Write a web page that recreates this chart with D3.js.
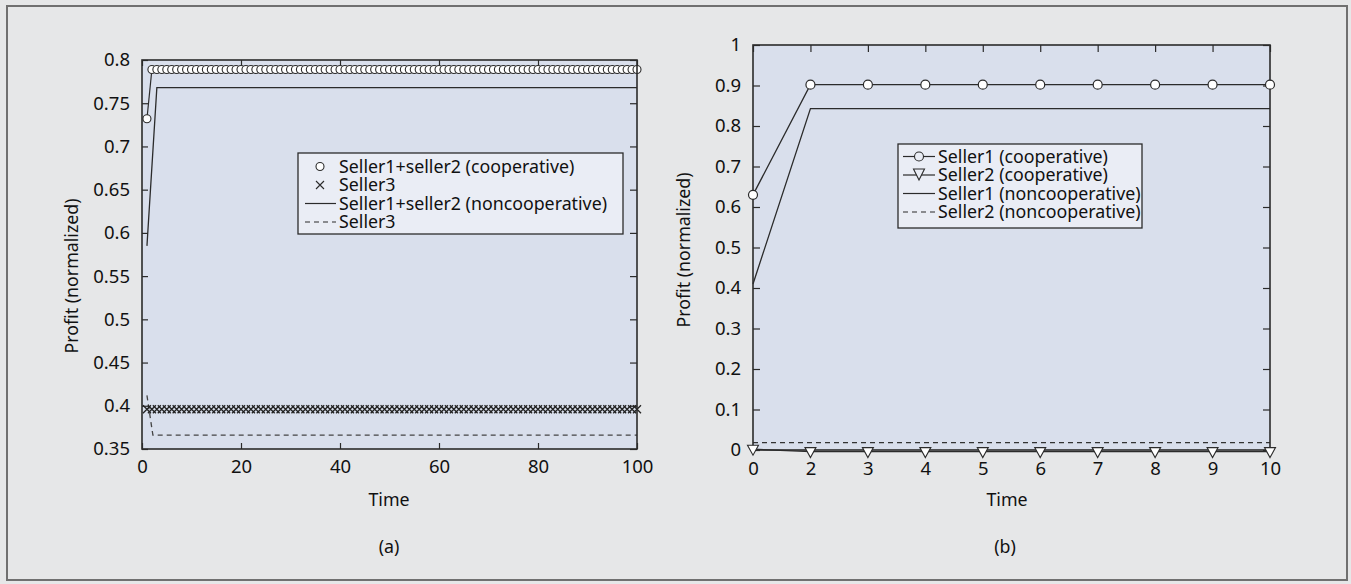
<!DOCTYPE html>
<html>
<head>
<meta charset="utf-8">
<script src="https://cdn.jsdelivr.net/npm/d3@7"></script>
<style>
  body { margin: 0; background: #e6e7e8; }
  svg { display: block; font-family: "Noto Sans", "DejaVu Sans", sans-serif; }
</style>
</head>
<body>
<svg id="chart" width="1351" height="584"></svg>
<script>

// ---- panel (a) data ----
const timeA = d3.range(1, 101);
const coopA = [
  0.732, 0.789, 0.789, 0.789, 0.789, 0.789, 0.789, 0.789, 0.789, 0.789,
  0.789, 0.789, 0.789, 0.789, 0.789, 0.789, 0.789, 0.789, 0.789, 0.789,
  0.789, 0.789, 0.789, 0.789, 0.789, 0.789, 0.789, 0.789, 0.789, 0.789,
  0.789, 0.789, 0.789, 0.789, 0.789, 0.789, 0.789, 0.789, 0.789, 0.789,
  0.789, 0.789, 0.789, 0.789, 0.789, 0.789, 0.789, 0.789, 0.789, 0.789,
  0.789, 0.789, 0.789, 0.789, 0.789, 0.789, 0.789, 0.789, 0.789, 0.789,
  0.789, 0.789, 0.789, 0.789, 0.789, 0.789, 0.789, 0.789, 0.789, 0.789,
  0.789, 0.789, 0.789, 0.789, 0.789, 0.789, 0.789, 0.789, 0.789, 0.789,
  0.789, 0.789, 0.789, 0.789, 0.789, 0.789, 0.789, 0.789, 0.789, 0.789,
  0.789, 0.789, 0.789, 0.789, 0.789, 0.789, 0.789, 0.789, 0.789, 0.789
];
const seller3CoopA = [
  0.396, 0.396, 0.396, 0.396, 0.396, 0.396, 0.396, 0.396, 0.396, 0.396,
  0.396, 0.396, 0.396, 0.396, 0.396, 0.396, 0.396, 0.396, 0.396, 0.396,
  0.396, 0.396, 0.396, 0.396, 0.396, 0.396, 0.396, 0.396, 0.396, 0.396,
  0.396, 0.396, 0.396, 0.396, 0.396, 0.396, 0.396, 0.396, 0.396, 0.396,
  0.396, 0.396, 0.396, 0.396, 0.396, 0.396, 0.396, 0.396, 0.396, 0.396,
  0.396, 0.396, 0.396, 0.396, 0.396, 0.396, 0.396, 0.396, 0.396, 0.396,
  0.396, 0.396, 0.396, 0.396, 0.396, 0.396, 0.396, 0.396, 0.396, 0.396,
  0.396, 0.396, 0.396, 0.396, 0.396, 0.396, 0.396, 0.396, 0.396, 0.396,
  0.396, 0.396, 0.396, 0.396, 0.396, 0.396, 0.396, 0.396, 0.396, 0.396,
  0.396, 0.396, 0.396, 0.396, 0.396, 0.396, 0.396, 0.396, 0.396, 0.396
];
const nonCoopTimeA = [1, 3, 100];
const nonCoopA = [0.585, 0.768, 0.768];
const seller3NonTimeA = [1, 2.2, 100];
const seller3NonA = [0.412, 0.366, 0.366];
const xTicksA = [0, 20, 40, 60, 80, 100];
const yTicksA = [0.35, 0.4, 0.45, 0.5, 0.55, 0.6, 0.65, 0.7, 0.75, 0.8];
const legendA = ["Seller1+seller2 (cooperative)", "Seller3", "Seller1+seller2 (noncooperative)", "Seller3"];

// ---- panel (b) data ----
const xCatsB = ["0", "2", "3", "4", "5", "6", "7", "8", "9", "10"];
const seller1CoopB = [0.63, 0.902, 0.902, 0.902, 0.902, 0.902, 0.902, 0.902, 0.902, 0.902];
const seller2CoopB = [0.002, -0.004, -0.004, -0.004, -0.004, -0.004, -0.004, -0.004, -0.004, -0.004];
const seller1NonB = [0.41, 0.843, 0.843, 0.843, 0.843, 0.843, 0.843, 0.843, 0.843, 0.843];
const seller2NonB = [0.018, 0.018, 0.018, 0.018, 0.018, 0.018, 0.018, 0.018, 0.018, 0.018];
const yTicksB = [0, 0.1, 0.2, 0.3, 0.4, 0.5, 0.6, 0.7, 0.8, 0.9, 1];
const legendB = ["Seller1 (cooperative)", "Seller2 (cooperative)", "Seller1 (noncooperative)", "Seller2 (noncooperative)"];

const ink = "#2b2b2b";
const plotBg = "#d9dfec";
const legendBg = "#eaedf5";
const fontSize = 17.8;
const tickFont = 18.5;

const svg = d3.select("#chart");

// outer frame
svg.append("rect")
  .attr("x", 7).attr("y", 6).attr("width", 1340).attr("height", 574)
  .attr("fill", "#e6e7e8").attr("stroke", "#707070").attr("stroke-width", 2);

function styleAxis(sel) {
  sel.select(".domain").remove();
  sel.selectAll("line").attr("stroke", ink).attr("stroke-width", 1.2);
  sel.selectAll("text").attr("fill", "#111").style("font-size", tickFont + "px")
    .style("font-family", "'Noto Sans', sans-serif");
}

function addText(x, y, t, rotate) {
  const el = svg.append("text").attr("text-anchor", "middle")
    .style("font-size", fontSize + "px").attr("fill", "#111").text(t);
  if (rotate) el.attr("transform", `translate(${x},${y}) rotate(-90)`);
  else el.attr("x", x).attr("y", y);
  return el;
}

// ================= panel (a) =================
{
  const L = 142, T = 60, W = 495, H = 389;
  const g = svg.append("g").attr("transform", `translate(${L},${T})`);
  const x = d3.scaleLinear().domain([0, 100]).range([0, W]);
  const y = d3.scaleLinear().domain([0.35, 0.8]).range([H, 0]);

  g.append("rect").attr("width", W).attr("height", H).attr("fill", plotBg);

  g.append("g").attr("transform", `translate(0,${H})`)
    .call(d3.axisBottom(x).tickValues(xTicksA).tickSize(-6).tickPadding(11))
    .call(styleAxis);
  g.append("g")
    .call(d3.axisLeft(y).tickValues(yTicksA).tickSize(-6).tickPadding(12).tickFormat(d => String(+d.toFixed(2))))
    .call(styleAxis);
  g.append("g").call(d3.axisTop(x).tickValues(xTicksA).tickSize(-6).tickFormat("")).call(styleAxis);
  g.append("g").attr("transform", `translate(${W},0)`)
    .call(d3.axisRight(y).tickValues(yTicksA).tickSize(-7).tickFormat("")).call(styleAxis);

  const line = d3.line().x(d => x(d[0])).y(d => y(d[1]));

  // noncooperative lines
  g.append("path").datum(d3.zip(nonCoopTimeA, nonCoopA)).attr("d", line)
    .attr("fill", "none").attr("stroke", ink).attr("stroke-width", 1.3);
  g.append("path").datum(d3.zip(seller3NonTimeA, seller3NonA)).attr("d", line)
    .attr("fill", "none").attr("stroke", "#444").attr("stroke-width", 1.3)
    .attr("stroke-dasharray", "5,4");

  // cooperative: circles
  const coopPts = d3.zip(timeA, coopA);
  g.append("path").datum(coopPts.slice(0, 2)).attr("d", line)
    .attr("fill", "none").attr("stroke", ink).attr("stroke-width", 1.2);
  g.selectAll(".circA").data(coopPts).join("circle")
    .attr("cx", d => x(d[0])).attr("cy", d => y(d[1])).attr("r", 4)
    .attr("fill", "#fff").attr("stroke", ink).attr("stroke-width", 1.1);

  // seller3 cooperative: crosses
  g.selectAll(".crossA").data(d3.zip(timeA, seller3CoopA)).join("path")
    .attr("d", d => { const cx = x(d[0]), cy = y(d[1]), s = 4;
      return `M${cx - s},${cy - s}L${cx + s},${cy + s}M${cx - s},${cy + s}L${cx + s},${cy - s}`; })
    .attr("stroke", "#222").attr("stroke-width", 1.3).attr("fill", "none");

  // plot border
  g.append("rect").attr("width", W).attr("height", H).attr("fill", "none")
    .attr("stroke", ink).attr("stroke-width", 1.6);

  // legend
  const lg = svg.append("g").attr("transform", "translate(298,153)");
  lg.append("rect").attr("width", 325).attr("height", 81)
    .attr("fill", legendBg).attr("stroke", ink).attr("stroke-width", 1.3);
  legendA.forEach((t, i) => {
    const cy = 13.5 + i * 18.5;
    lg.append("text").attr("x", 41).attr("y", cy).attr("dy", "0.35em")
      .style("font-size", fontSize + "px").attr("fill", "#111").text(t);
    if (i === 0) {
      lg.append("circle").attr("cx", 22).attr("cy", cy).attr("r", 4)
        .attr("fill", "#fff").attr("stroke", ink).attr("stroke-width", 1.1);
    } else if (i === 1) {
      lg.append("path").attr("d", `M18,${cy - 4}L26,${cy + 4}M18,${cy + 4}L26,${cy - 4}`)
        .attr("stroke", ink).attr("stroke-width", 1.1);
    } else {
      lg.append("line").attr("x1", 7).attr("x2", 38).attr("y1", cy).attr("y2", cy)
        .attr("stroke", ink).attr("stroke-width", 1.2)
        .attr("stroke-dasharray", i === 3 ? "5,4" : null);
    }
  });

  addText(78, 276, "Profit (normalized)", true);
  addText(389, 506, "Time");
  addText(389, 553, "(a)");
}

// ================= panel (b) =================
{
  const L = 753, T = 45, W = 517, H = 405;
  const g = svg.append("g").attr("transform", `translate(${L},${T})`);
  const x = d3.scalePoint().domain(xCatsB).range([0, W]);
  const y = d3.scaleLinear().domain([0, 1]).range([H, 0]);

  g.append("rect").attr("width", W).attr("height", H).attr("fill", plotBg);

  g.append("g").attr("transform", `translate(0,${H})`)
    .call(d3.axisBottom(x).tickSize(0).tickPadding(12))
    .call(styleAxis);
  g.append("g")
    .call(d3.axisLeft(y).tickValues(yTicksB).tickSize(-7).tickPadding(12).tickFormat(d => String(+d.toFixed(1))))
    .call(styleAxis);
  g.append("g").call(d3.axisTop(x).tickSize(-7).tickFormat("")).call(styleAxis);
  g.append("g").attr("transform", `translate(${W},0)`)
    .call(d3.axisRight(y).tickValues(yTicksB).tickSize(-7).tickFormat("")).call(styleAxis);

  const line = d3.line().x(d => x(d[0])).y(d => y(d[1]));

  g.append("path").datum(d3.zip(xCatsB, seller2NonB)).attr("d", line)
    .attr("fill", "none").attr("stroke", "#333").attr("stroke-width", 1.3)
    .attr("stroke-dasharray", "5,4");
  g.append("path").datum(d3.zip(xCatsB, seller1NonB)).attr("d", line)
    .attr("fill", "none").attr("stroke", ink).attr("stroke-width", 1.3);

  // plot border (under markers)
  g.append("rect").attr("width", W).attr("height", H).attr("fill", "none")
    .attr("stroke", ink).attr("stroke-width", 1.6);

  g.append("path").datum(d3.zip(xCatsB, seller2CoopB)).attr("d", line)
    .attr("fill", "none").attr("stroke", ink).attr("stroke-width", 1.3);
  g.selectAll(".triB").data(d3.zip(xCatsB, seller2CoopB)).join("path")
    .attr("d", d => { const cx = x(d[0]), cy = y(d[1]);
      return `M${cx - 5.5},${cy - 4}L${cx + 5.5},${cy - 4}L${cx},${cy + 6}Z`; })
    .attr("fill", "#fff").attr("stroke", ink).attr("stroke-width", 1.1);

  g.append("path").datum(d3.zip(xCatsB, seller1CoopB)).attr("d", line)
    .attr("fill", "none").attr("stroke", ink).attr("stroke-width", 1.3);
  g.selectAll(".circB").data(d3.zip(xCatsB, seller1CoopB)).join("circle")
    .attr("cx", d => x(d[0])).attr("cy", d => y(d[1])).attr("r", 4.5)
    .attr("fill", "#fff").attr("stroke", ink).attr("stroke-width", 1.2);

  // legend
  const lg = svg.append("g").attr("transform", "translate(898,144)");
  lg.append("rect").attr("width", 244).attr("height", 84)
    .attr("fill", legendBg).attr("stroke", ink).attr("stroke-width", 1.3);
  legendB.forEach((t, i) => {
    const cy = 12.5 + i * 18.5;
    lg.append("text").attr("x", 40).attr("y", cy).attr("dy", "0.35em")
      .style("font-size", fontSize + "px").attr("fill", "#111").text(t);
    lg.append("line").attr("x1", 5).attr("x2", 37).attr("y1", cy).attr("y2", cy)
      .attr("stroke", ink).attr("stroke-width", 1.2)
      .attr("stroke-dasharray", i === 3 ? "5,4" : null);
    if (i === 0) {
      lg.append("circle").attr("cx", 21).attr("cy", cy).attr("r", 4.5)
        .attr("fill", legendBg).attr("stroke", ink).attr("stroke-width", 1.1);
    } else if (i === 1) {
      lg.append("path").attr("d", `M15.5,${cy - 6}L26.5,${cy - 6}L21,${cy + 5}Z`)
        .attr("fill", legendBg).attr("stroke", ink).attr("stroke-width", 1.1);
    }
  });

  addText(690, 250, "Profit (normalized)", true);
  addText(1007, 506, "Time");
  addText(1005, 553, "(b)");
}
</script>
</body>
</html>
